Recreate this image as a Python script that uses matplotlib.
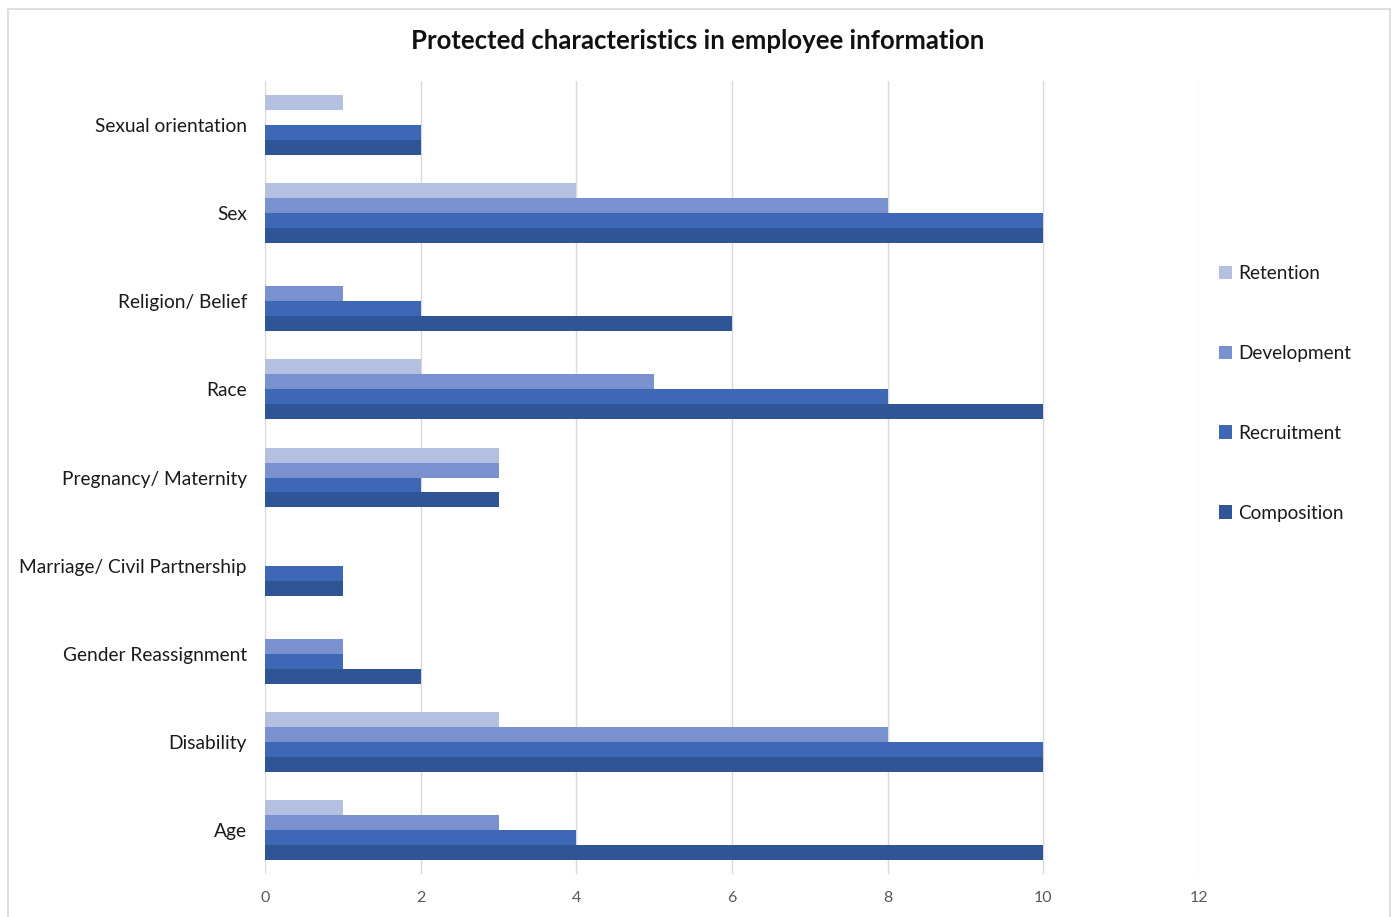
import numpy as np
import matplotlib.pyplot as plt
from matplotlib.patches import Rectangle

plt.rcParams['font.family'] = ['Lato', 'DejaVu Sans']

# categories listed bottom to top
categories = ['Age', 'Disability', 'Gender Reassignment', 'Marriage/ Civil Partnership',
              'Pregnancy/ Maternity', 'Race', 'Religion/ Belief', 'Sex', 'Sexual orientation']
series = ['Retention', 'Development', 'Recruitment', 'Composition']
retention = [1, 3, 0, 0, 3, 2, 0, 4, 1]
development = [3, 8, 1, 0, 3, 5, 1, 8, 0]
recruitment = [4, 10, 1, 1, 2, 8, 2, 10, 2]
composition = [10, 10, 2, 1, 3, 10, 6, 10, 2]
colors = ['#b4c0e0', '#7a91cf', '#3e67b6', '#2f5597']

fig = plt.figure(figsize=(13.95, 9.17), dpi=100)
ax = fig.add_axes([265 / 1395, 1 - 874 / 917, (1199 - 265) / 1395, (874 - 81) / 917])

y = np.arange(len(categories))
h = 0.17
values = [retention, development, recruitment, composition]
offsets = [1.5, 0.5, -0.5, -1.5]
for vals, off, col, name in zip(values, offsets, colors, series):
    ax.barh(y + off * h, vals, height=h, color=col, label=name, zorder=3)

ax.set_xlim(0, 12)
ax.set_ylim(-0.5, len(categories) - 0.5)
ax.set_xticks(range(0, 13, 2))
ax.set_yticks(y)
ax.set_yticklabels(categories)
ax.grid(axis='x', color='#d9d9d9', linewidth=1, zorder=0)
for s in ax.spines.values():
    s.set_visible(False)
ax.tick_params(axis='y', length=0, pad=13, labelsize=13.8, labelcolor='#1a1a1a')
ax.tick_params(axis='x', length=0, pad=12, labelsize=11.5, labelcolor='#595959')

fig.text(698 / 1395, 1 - 41 / 917, 'Protected characteristics in employee information',
         ha='center', va='center', fontsize=18.5, fontweight='bold', color='#111111')

handles, labels = ax.get_legend_handles_labels()
fig.legend(handles, labels, loc='upper left', bbox_to_anchor=(1202 / 1395, 1 - 248 / 917),
           frameon=False, fontsize=13.7, handlelength=0.7, handleheight=0.7,
           handletextpad=0.3, labelspacing=3.3, labelcolor='#1a1a1a')

# light chart-area border
fig.patches.append(Rectangle((8 / 1395, -0.01), (1390 - 8) / 1395, 1 - 9 / 917 + 0.01,
                             transform=fig.transFigure, fill=False,
                             edgecolor='#d9d9d9', linewidth=1.2))

fig.savefig('out.png', dpi=100, facecolor='white')
